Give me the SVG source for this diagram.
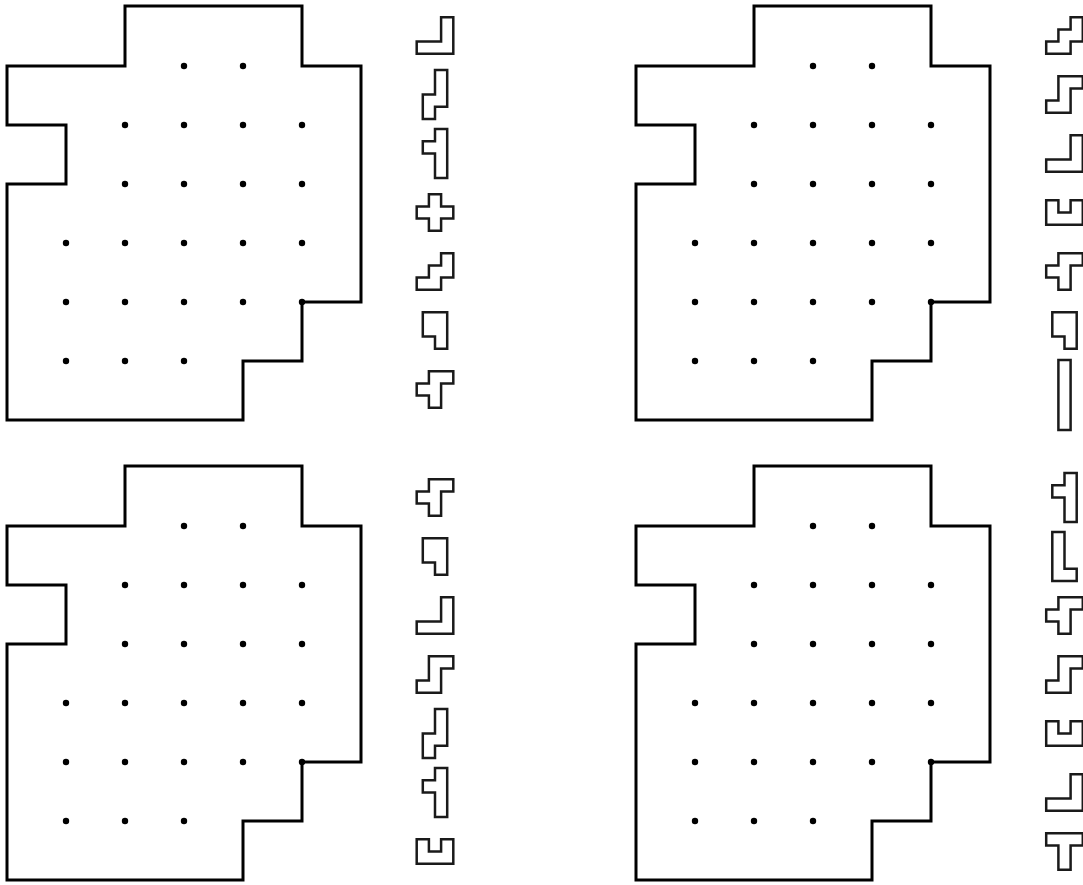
<svg xmlns="http://www.w3.org/2000/svg" xmlns:xlink="http://www.w3.org/1999/xlink" width="1083" height="885" viewBox="0 0 1083 885">
<style>
.board{fill:none;stroke:#000;stroke-width:3;stroke-linejoin:miter}
.dot{fill:#000}
.pc{fill:#fff;stroke:#1a1a1a;stroke-width:2.5;stroke-linejoin:miter}
</style>
<defs>
<g id="boardShape">
<path class="board" d="M125,6 H302 V66 H361 V302 H302 V361 H243 V420 H7 V184 H66 V125 H7 V66 H125 Z"/>
<g class="dot">
<circle cx="184" cy="66" r="3.2"/><circle cx="243" cy="66" r="3.2"/>
<circle cx="125" cy="125" r="3.2"/><circle cx="184" cy="125" r="3.2"/><circle cx="243" cy="125" r="3.2"/><circle cx="302" cy="125" r="3.2"/>
<circle cx="125" cy="184" r="3.2"/><circle cx="184" cy="184" r="3.2"/><circle cx="243" cy="184" r="3.2"/><circle cx="302" cy="184" r="3.2"/>
<circle cx="66" cy="243" r="3.2"/><circle cx="125" cy="243" r="3.2"/><circle cx="184" cy="243" r="3.2"/><circle cx="243" cy="243" r="3.2"/><circle cx="302" cy="243" r="3.2"/>
<circle cx="66" cy="302" r="3.2"/><circle cx="125" cy="302" r="3.2"/><circle cx="184" cy="302" r="3.2"/><circle cx="243" cy="302" r="3.2"/><circle cx="302" cy="302" r="3.2"/>
<circle cx="66" cy="361" r="3.2"/><circle cx="125" cy="361" r="3.2"/><circle cx="184" cy="361" r="3.2"/>
</g>
</g>
<path id="pV" class="pc" d="M24.4,0 H36.6 V36.6 H0 V24.4 H24.4 Z"/>
<path id="pN" class="pc" d="M12.2,0 H24.4 V36.6 H12.2 V48.8 H0 V24.4 H12.2 Z"/>
<path id="pY" class="pc" d="M12.2,0 H24.4 V48.8 H12.2 V24.4 H0 V12.2 H12.2 Z"/>
<path id="pX" class="pc" d="M12.2,0 H24.4 V12.2 H36.6 V24.4 H24.4 V36.6 H12.2 V24.4 H0 V12.2 H12.2 Z"/>
<path id="pW" class="pc" d="M24.4,0 H36.6 V24.4 H24.4 V36.6 H0 V24.4 H12.2 V12.2 H24.4 Z"/>
<path id="pP" class="pc" d="M0,0 H24.4 V36.6 H12.2 V24.4 H0 Z"/>
<path id="pF" class="pc" d="M12.2,0 H36.6 V12.2 H24.4 V36.6 H12.2 V24.4 H0 V12.2 H12.2 Z"/>
<path id="pS" class="pc" d="M12.2,0 H36.6 V12.2 H24.4 V36.6 H0 V24.4 H12.2 Z"/>
<path id="pU" class="pc" d="M0,0 H12.2 V12.2 H24.4 V0 H36.6 V24.4 H0 Z"/>
<path id="pL" class="pc" d="M0,0 H12.2 V36.6 H24.4 V48.8 H0 Z"/>
<path id="pT" class="pc" d="M0,0 H36.6 V12.2 H24.4 V36.6 H12.2 V12.2 H0 Z"/>
<path id="pI" class="pc" d="M0,0 H12.2 V70 H0 Z"/>
</defs>
<rect width="1083" height="885" fill="#fff"/>
<g id="board-tl"><use href="#boardShape"/></g>
<g id="board-tr"><use href="#boardShape" transform="translate(629,0)"/></g>
<g id="board-bl"><use href="#boardShape" transform="translate(0,460)"/></g>
<g id="board-br"><use href="#boardShape" transform="translate(629,460)"/></g>
<g id="pieces-tl">
<use id="tl1" href="#pV" x="416.7" y="17.2"/>
<use id="tl2" href="#pN" x="422.8" y="70.1"/>
<use id="tl3" href="#pY" x="422.8" y="129.1"/>
<use id="tl4" href="#pX" x="416.7" y="194.2"/>
<use id="tl5" href="#pW" x="416.7" y="253.2"/>
<use id="tl6" href="#pP" x="422.8" y="312.2"/>
<use id="tl7" href="#pF" x="416.7" y="371.2"/>
</g>
<g id="pieces-tr">
<use id="tr1" href="#pW" x="1046.2" y="17.2"/>
<use id="tr2" href="#pS" x="1046.2" y="76.2"/>
<use id="tr3" href="#pV" x="1046.2" y="135.2"/>
<use id="tr4" href="#pU" x="1046.2" y="200.3"/>
<use id="tr5" href="#pF" x="1046.2" y="253.2"/>
<use id="tr6" href="#pP" x="1052.3" y="312.2"/>
<use id="tr7" href="#pI" x="1058.4" y="360"/>
</g>
<g id="pieces-bl">
<use id="bl1" href="#pF" x="416.7" y="479.2"/>
<use id="bl2" href="#pP" x="422.8" y="538.2"/>
<use id="bl3" href="#pV" x="416.7" y="597.2"/>
<use id="bl4" href="#pS" x="416.7" y="656.2"/>
<use id="bl5" href="#pN" x="422.8" y="709.1"/>
<use id="bl6" href="#pY" x="422.8" y="768.1"/>
<use id="bl7" href="#pU" x="416.7" y="839.3"/>
</g>
<g id="pieces-br">
<use id="br1" href="#pY" x="1052.3" y="473.1"/>
<use id="br2" href="#pL" x="1052.3" y="532.1"/>
<use id="br3" href="#pF" x="1046.2" y="597.2"/>
<use id="br4" href="#pS" x="1046.2" y="656.2"/>
<use id="br5" href="#pU" x="1046.2" y="721.3"/>
<use id="br6" href="#pV" x="1046.2" y="774.2"/>
<use id="br7" href="#pT" x="1046.2" y="833.2"/>
</g>
<g id="connectors"/>
</svg>
